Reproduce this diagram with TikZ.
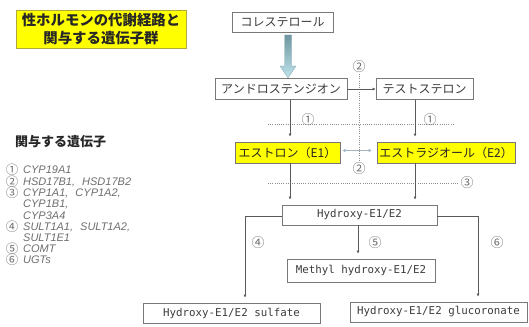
\documentclass[tikz,border=0pt]{standalone}
\usepackage{fontspec}
\newfontfamily\jp{Noto Sans CJK JP}
\newfontfamily\mono{DejaVu Sans Mono}
\newfontfamily\gene{Liberation Sans}
\usetikzlibrary{arrows.meta,calc}
\definecolor{boxline}{RGB}{120,120,120}
\definecolor{txt}{RGB}{60,60,60}
\definecolor{lbl}{RGB}{110,110,110}
\definecolor{yel}{RGB}{255,255,0}
\definecolor{lightblue}{RGB}{190,228,236}
\definecolor{darkblue}{RGB}{110,150,160}
\definecolor{dbl}{RGB}{160,180,195}
\begin{document}
\begin{tikzpicture}[x=1pt,y=-1pt,
  box/.style={draw=boxline,line width=0.6pt,fill=white,inner sep=0pt,text=txt},
  jbox/.style={box,font=\jp\fontsize{12}{14}\selectfont},
  ybox/.style={jbox,fill=yel,text=black!85},
  mbox/.style={box,font=\mono\fontsize{10.8}{13}\selectfont},
  arr/.style={-{Latex[length=3pt,width=3pt]},draw=black!65,line width=0.6pt},
  dotline/.style={draw=black!45,line width=0.6pt,dash pattern=on 1pt off 1.2pt},
  num/.style={font=\jp\fontsize{13}{14}\selectfont,text=lbl,inner sep=0pt},
  lnum/.style={font=\jp\fontsize{12.5}{13}\selectfont,text=lbl,inner sep=0pt},
  genetxt/.style={font=\gene\itshape\fontsize{11}{12}\selectfont,text=lbl,anchor=west,inner sep=0pt},
]
\useasboundingbox (0,0) rectangle (529,326);

% title
\node[draw=black!35!yellow,line width=0.6pt,fill=yel,minimum width=170pt,minimum height=38pt,inner sep=0pt,align=center,
  font=\jp\bfseries\fontsize{14.4}{18}\selectfont,text=black!85] (title) at (101,29) {性ホルモンの代謝経路と\\関与する遺伝子群};

% boxes
\node[jbox,minimum width=101pt,minimum height=20pt] (chol) at (282.5,22) {コレステロール};
\node[jbox,minimum width=132pt,minimum height=21pt] (andro) at (281,89) {アンドロステンジオン};
\node[jbox,minimum width=97pt,minimum height=21pt] (testo) at (424.5,89) {テストステロン};
\node[ybox,minimum width=105pt,minimum height=21pt] (e1) at (287.5,152.5) {エストロン（E1）};
\node[ybox,minimum width=138pt,minimum height=21pt] (e2) at (446,152.5) {エストラジオール（E2）};
\node[mbox,minimum width=155pt,minimum height=20pt] (hyd) at (359.5,215) {Hydroxy-E1/E2};
\node[mbox,minimum width=148pt,minimum height=23pt] (meth) at (361,270.5) {Methyl hydroxy-E1/E2};
\node[mbox,minimum width=177pt,minimum height=20pt] (sulf) at (231.5,313) {Hydroxy-E1/E2 sulfate};
\node[mbox,minimum width=177pt,minimum height=20pt] (gluc) at (438.5,312) {Hydroxy-E1/E2 glucoronate};

% thick arrow cholesterol -> androstenedione
\shade[top color=darkblue,middle color=lightblue,bottom color=lightblue,draw=darkblue!80,line width=0.4pt]
  (284.5,35) -- (291.5,35) -- (291.5,66) -- (296,66) -- (288,78) -- (280,66) -- (284.5,66) -- cycle;

% coordinates for columns
\coordinate (c1) at (290,0);
\coordinate (c2) at (415,0);
\coordinate (cl) at (245,0);
\coordinate (cr) at (478,0);
\coordinate (cm) at (358,0);

% dotted lines
\coordinate (v1) at (359,74);
\coordinate (v2) at (359,160);
\draw[dotline] (v1) -- (v2);
\coordinate (h1a) at (268,124); \coordinate (h1b) at (453,124);
\coordinate (h2a) at (268,183); \coordinate (h2b) at (459,183);
\draw[dotline] (h1a) -- (h1b);
\draw[dotline] (h2a) -- (h2b);

% connectors
\draw[arr] (andro.east) -- (andro.east -| testo.west);
\draw[arr,shorten >=5pt] (andro.south -| c1) -- (e1.north -| c1);
\draw[arr,shorten >=5pt] (testo.south -| c2) -- (e2.north -| c2);
\draw[arr,shorten >=5pt] (e1.south -| c1) -- (hyd.north -| c1);
\draw[arr,shorten >=5pt] (e2.south -| c2) -- (hyd.north -| c2);
\draw[{Latex[length=3pt,width=3.5pt]}-{Latex[length=3pt,width=3.5pt]},draw=dbl,line width=0.9pt,shorten <=2pt,shorten >=5pt]
  ([yshift=2pt]e1.east) -- ([yshift=2pt]e1.east -| e2.west);
\draw[arr,shorten >=5pt] ([yshift=-1pt]hyd.west) -| (sulf.north -| cl);
\draw[arr,shorten >=5pt] ([yshift=-1pt]hyd.east) -| (gluc.north -| cr);
\draw[arr,shorten >=5pt] (hyd.south -| cm) -- (meth.north -| cm);

% labels
\node[num] (n2a) at (359,67) {②};
\node[num] (n2b) at (359,169) {②};
\node[num] (n1a) at (308,120) {①};
\node[num] (n1b) at (430,120) {①};
\node[num] (n3) at (467,183) {③};
\node[num] (n4) at (258,243) {④};
\node[num] (n5) at (375,243) {⑤};
\node[num] (n6) at (497,243) {⑥};

% left legend
\node[anchor=west,inner sep=0pt,font=\jp\bfseries\fontsize{13}{15}\selectfont,text=black!85] (leg) at (15,142) {関与する遺伝子};
\node[lnum] (l1) at (12,170) {①};
\node[lnum] (l2) at (12,182) {②};
\node[lnum] (l3) at (12,193) {③};
\node[lnum] (l4) at (12,227) {④};
\node[lnum] (l5) at (12,249) {⑤};
\node[lnum] (l6) at (12,260) {⑥};
\node[genetxt] (g1) at (23,170) {CYP19A1};
\node[genetxt] (g2) at (23,182) {HSD17B1,\hspace{4pt} HSD17B2};
\node[genetxt] (g3) at (23,193) {CYP1A1,\hspace{4pt} CYP1A2,};
\node[genetxt] (g3b) at (23,204) {CYP1B1,};
\node[genetxt] (g3c) at (23,216) {CYP3A4};
\node[genetxt] (g4) at (23,227) {SULT1A1,\hspace{4pt} SULT1A2,};
\node[genetxt] (g4b) at (23,238) {SULT1E1};
\node[genetxt] (g5) at (23,249) {COMT};
\node[genetxt] (g6) at (23,260) {UGTs};
\end{tikzpicture}
\end{document}
